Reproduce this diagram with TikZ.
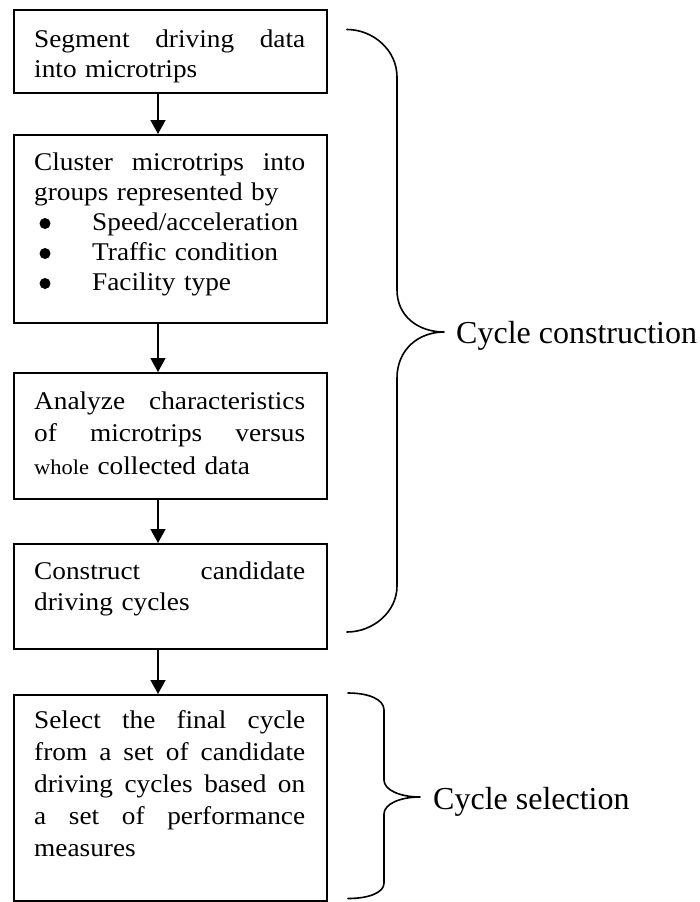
\documentclass[tikz,border=0pt]{standalone}
\usepackage{fontspec}
\setmainfont{Liberation Serif}
\newfontfamily\boxfont[FakeStretch=1.07]{Liberation Serif}
\usetikzlibrary{arrows.meta,calc}

\begin{document}
\begin{tikzpicture}[x=1pt,y=-1pt,
  stepbox/.style={draw, line width=1.6pt, inner sep=0pt, anchor=north west, minimum width=313pt},
  boxtext/.style={inner sep=0pt, anchor=base west, text width=271pt, align=left},
  flow/.style={line width=1.6pt, -{Triangle[length=14pt,width=15pt]}},
  bracepath/.style={line width=1.6pt, line cap=round, line join=round},
  grouplabel/.style={inner sep=0pt, anchor=base west, font=\fontsize{32}{38}\selectfont}]

\useasboundingbox (0,0) rectangle (699,902);

% boxes
\node[stepbox, minimum height=83pt]  (b1) at (13,9) {};
\node[stepbox, minimum height=188pt] (b2) at (13,134) {};
\node[stepbox, minimum height=126pt] (b3) at (13,372) {};
\node[stepbox, minimum height=105pt] (b4) at (13,543) {};
\node[stepbox, minimum height=206pt] (b5) at (13,694) {};

% texts
\node[boxtext, font=\boxfont\fontsize{25.5}{30}\selectfont] (t1) at (34,47)
  {Segment\hfill driving\hfill data\\into microtrips};
\node[boxtext, font=\boxfont\fontsize{25.5}{30}\selectfont] (t2) at (34,170)
  {Cluster\hfill microtrips\hfill into\\groups represented by\\\hspace*{58pt}Speed/acceleration\\\hspace*{58pt}Traffic condition\\\hspace*{58pt}Facility type};
\node[boxtext, font=\boxfont\fontsize{25.5}{32.5}\selectfont] (t3) at (34,409)
  {Analyze\hfill characteristics\\of\hfill microtrips\hfill versus\\{\fontsize{21}{32.5}\selectfont whole} collected data};
\node[boxtext, font=\boxfont\fontsize{25.5}{31}\selectfont] (t4) at (34,579)
  {Construct\hfill candidate\\driving cycles};
\node[boxtext, font=\boxfont\fontsize{25.5}{32}\selectfont] (t5) at (34,728)
  {Select\hfill the\hfill final\hfill cycle\\from\hfill a\hfill set\hfill of\hfill candidate\\driving\hfill cycles\hfill based\hfill on\\a\hfill set\hfill of\hfill performance\\measures};

% bullets
\fill (45,223.5) circle (5.5);
\fill (45,253.5) circle (5.5);
\fill (45,283.5) circle (5.5);

% arrows
\coordinate (ax) at (158,0);
\draw[flow] (b1.south -| ax) -- (b2.north -| ax);
\draw[flow] (b2.south -| ax) -- (b3.north -| ax);
\draw[flow] (b3.south -| ax) -- (b4.north -| ax);
\draw[flow] (b4.south -| ax) -- (b5.north -| ax);

% braces
\coordinate (tip1) at (444,332);
\coordinate (tip2) at (420,797);
\draw[bracepath] (347,29.5) .. controls (373,29.5) and (397,50) .. (397,77)
  -- (397,290) .. controls (397,316) and (418,332) .. (tip1)
  .. controls (418,332) and (397,350) .. (397,378)
  -- (397,586) .. controls (397,612) and (373,632) .. (347,632);
\draw[bracepath] (348,693) .. controls (368,693) and (384,699) .. (384,710)
  -- (384,780) .. controls (384,790) and (400,797) .. (tip2)
  .. controls (400,797) and (384,804) .. (384,814)
  -- (384,883) .. controls (384,893) and (368,898.5) .. (348,898.5);

% labels
\node[grouplabel] (lab1) at (456,343) {Cycle construction};
\node[grouplabel] (lab2) at (433,809) {Cycle selection};
\end{tikzpicture}
\end{document}
